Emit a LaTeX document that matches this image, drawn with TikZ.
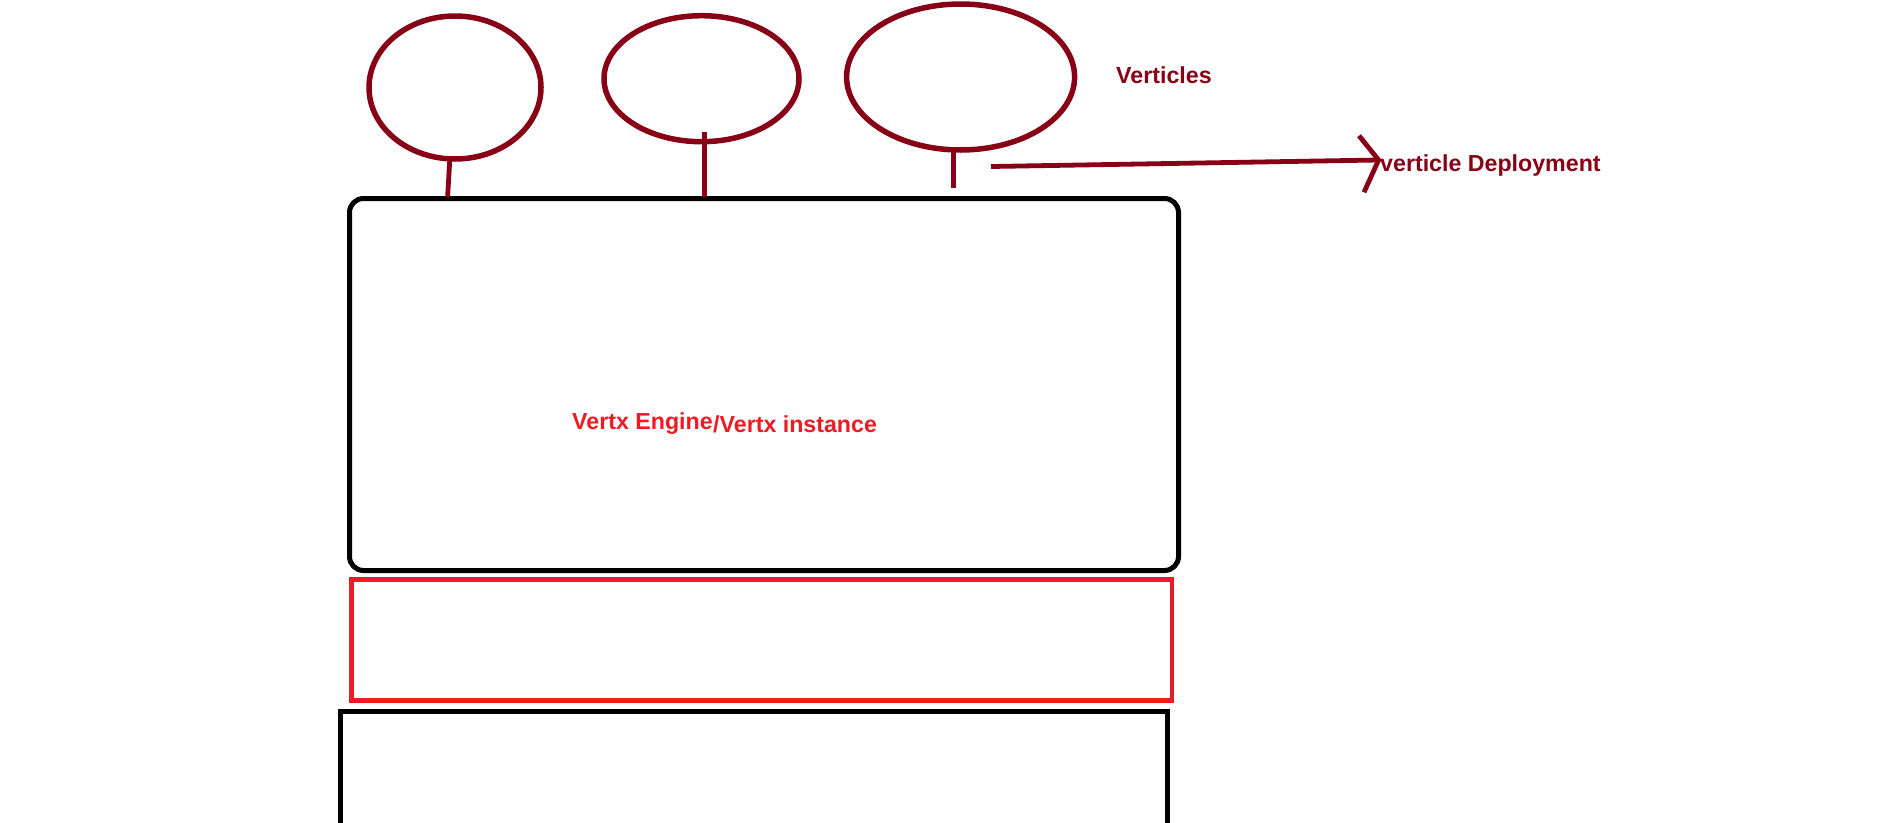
\documentclass[tikz,border=0pt]{standalone}
\usepackage{fontspec}
\setmainfont{Liberation Sans}
\usetikzlibrary{shapes.geometric}
\definecolor{dred}{HTML}{880015}
\definecolor{pred}{HTML}{ED1C24}
\tikzset{
  vert/.style={ellipse, draw=dred, line width=5.5pt, inner sep=0pt},
  stem/.style={draw=dred, line width=4.8pt},
  lbl/.style={inner sep=0pt, font=\bfseries\fontsize{23.2}{28}\selectfont},
}
\begin{document}
\begin{tikzpicture}[x=1pt, y=-1pt]
\useasboundingbox (0,0) rectangle (1901,822);
\fill[white] (0,0) rectangle (1901,822);
\clip (0,0) rectangle (1901,822);
% vertices
\node[vert, minimum width=172pt, minimum height=143pt] (e1) at (455,87.5) {};
\node[vert, minimum width=195pt, minimum height=126pt] (e2) at (701.5,78.7) {};
\node[vert, minimum width=228pt, minimum height=146pt] (e3) at (960.6,77) {};
% engine
\node[draw=black, line width=5pt, rounded corners=14pt, minimum width=829pt, minimum height=372pt, inner sep=0pt] (engine) at (764,384.5) {};
\node[draw=pred, line width=4.5pt, minimum width=820.5pt, minimum height=121pt, inner sep=0pt] (red) at (761.5,640) {};
\node[draw=black, line width=4.7pt, minimum width=827.2pt, minimum height=200pt, inner sep=0pt] (base) at (754,811.6) {};
% texts
\node[lbl, text=pred, anchor=base west] (t1) at (572,429) {Vertx Engine};
\node[lbl, text=pred, anchor=base west] (t2) at (713,432) {/Vertx instance};
\node[lbl, text=dred, anchor=base west] (vl) at (1116,83) {Verticles};
\node[lbl, text=dred, anchor=base west] (dl) at (1380,171.7) {verticle Deployment};
% stems
\coordinate (s1a) at (449.7,161);
\coordinate (s1b) at (447.6,197);
\coordinate (s2a) at (704.8,131.7);
\coordinate (s2b) at (704.8,197);
\coordinate (s3a) at (953.3,151);
\coordinate (s3b) at (953.3,188.3);
\draw[stem] (s1a) -- (s1b);
\draw[stem] (s2a) -- (s2b);
\draw[stem] (s3a) -- (s3b);
% arrow
\coordinate (as) at (991,166.5);
\coordinate (at) at (1378.6,160);
\coordinate (h1) at (1359,135.7);
\coordinate (h2) at (1364,192.3);
\draw[stem] (as) -- (at);
\draw[stem, line join=miter] (h1) -- (at) -- (h2);
\end{tikzpicture}
\end{document}
